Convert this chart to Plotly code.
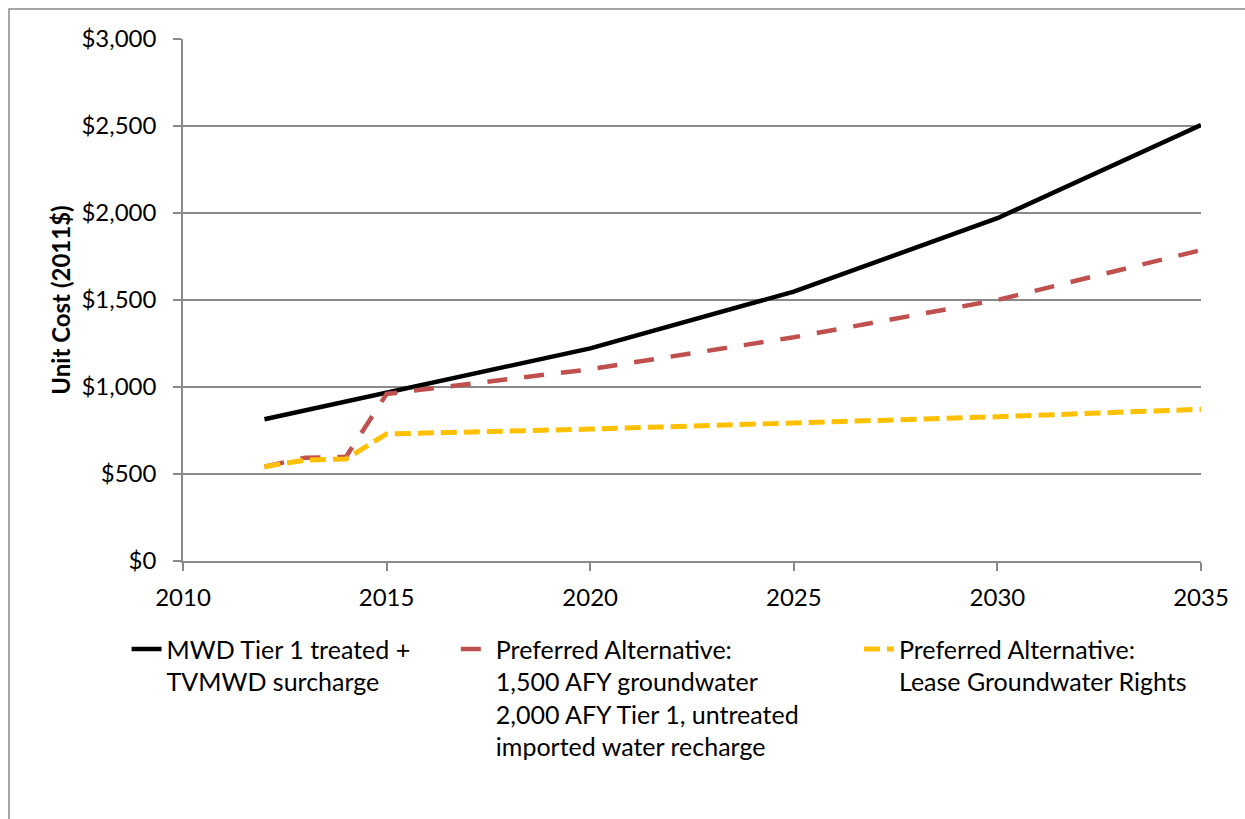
import plotly.graph_objects as go

# Unit cost projections (2011 dollars per acre-foot)
years = [2012, 2013, 2014, 2015, 2020, 2025, 2030, 2035]
mwd_tier1 = [815, 866, 917, 968, 1222, 1548, 1970, 2505]
preferred_recharge = [542, 594, 598, 960, 1102, 1286, 1500, 1787]
lease_rights = [542, 580, 586, 730, 758, 791, 829, 872]

series_names = [
    "MWD Tier 1 treated +<br>TVMWD surcharge",
    "Preferred Alternative:<br>1,500 AFY groundwater<br>2,000 AFY Tier 1, untreated<br>imported water recharge",
    "Preferred Alternative:<br>Lease Groundwater Rights",
]

y_ticks = [0, 500, 1000, 1500, 2000, 2500, 3000]
y_tick_labels = ["$0", "$500", "$1,000", "$1,500", "$2,000", "$2,500", "$3,000"]
x_ticks = [2010, 2015, 2020, 2025, 2030, 2035]

FONT = "Lato"
GRID = "#898989"

fig = go.Figure()
fig.add_trace(go.Scatter(
    x=years, y=mwd_tier1, mode="lines", name=series_names[0],
    line=dict(color="#000000", width=4.5), legend="legend", showlegend=True,
))
fig.add_trace(go.Scatter(
    x=years, y=preferred_recharge, mode="lines", name=series_names[1],
    line=dict(color="#C0504D", width=4.5, dash="20px,17px"), legend="legend2", showlegend=True,
))
fig.add_trace(go.Scatter(
    x=years, y=lease_rights, mode="lines", name=series_names[2],
    line=dict(color="#FFC000", width=5, dash="16px,7px"), legend="legend3", showlegend=True,
))

legend_common = dict(
    orientation="v", yanchor="top", xanchor="left", valign="top",
    font=dict(family=FONT, size=25, color="#000000"),
    bgcolor="rgba(0,0,0,0)", tracegroupgap=0,
)

fig.update_layout(
    width=1245, height=819,
    margin=dict(l=183, r=44, t=39, b=258),
    paper_bgcolor="white", plot_bgcolor="white",
    showlegend=True,
    font=dict(family=FONT, color="#000000"),
    legend=dict(x=-0.0554, y=-0.125, **legend_common),
    legend2=dict(x=0.268, y=-0.125, **legend_common),
    legend3=dict(x=0.664, y=-0.125, **legend_common),
    xaxis=dict(
        range=[2010, 2035], tickvals=x_ticks, ticktext=[str(v) for v in x_ticks],
        showgrid=False, zeroline=False,
        showline=True, linecolor=GRID, linewidth=1.5,
        ticks="outside", ticklen=8, tickcolor=GRID, tickwidth=1.5,
        ticklabelstandoff=6,
        tickfont=dict(family=FONT, size=24, color="#000000"),
    ),
    yaxis=dict(
        range=[0, 3000], tickvals=y_ticks, ticktext=y_tick_labels,
        showgrid=True, gridcolor=GRID, gridwidth=1.5, zeroline=False,
        showline=True, linecolor=GRID, linewidth=1.5,
        ticks="outside", ticklen=8, tickcolor=GRID, tickwidth=1.5,
        ticklabelstandoff=12,
        tickfont=dict(family=FONT, size=24, color="#000000"),
        title=dict(text="<b>Unit Cost (2011$)</b>", font=dict(family=FONT, size=24), standoff=4),
    ),
    shapes=[dict(
        type="rect", xref="paper", yref="paper",
        x0=(9 - 183) / 1018, x1=1.2, y0=-1.0, y1=(561 - 9) / 522,
        line=dict(color="#8a8a8a", width=1.5), fillcolor="rgba(0,0,0,0)", layer="below",
    )],
)

fig.write_html("out.html")
